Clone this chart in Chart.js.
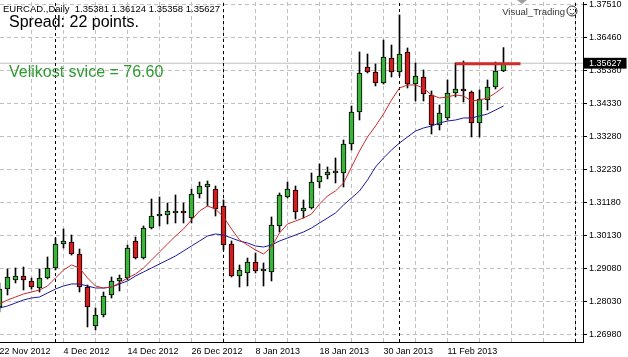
<!DOCTYPE html>
<html>
<head>
<meta charset="utf-8">
<script src="https://cdn.jsdelivr.net/npm/chart.js@4.4.1/dist/chart.umd.min.js"></script>
<style>
html,body{margin:0;padding:0;background:#fff;overflow:hidden;}
canvas{display:block;}
</style>
</head>
<body>
<canvas id="c" width="628" height="357"></canvas>
<script>
// ---- data (EURCAD, Daily) ----
const dates = ["22 Nov 2012","23 Nov 2012","26 Nov 2012","27 Nov 2012","28 Nov 2012","29 Nov 2012","30 Nov 2012",
"3 Dec 2012","4 Dec 2012","5 Dec 2012","6 Dec 2012","7 Dec 2012","10 Dec 2012","11 Dec 2012","12 Dec 2012","13 Dec 2012",
"14 Dec 2012","17 Dec 2012","18 Dec 2012","19 Dec 2012","20 Dec 2012","21 Dec 2012","24 Dec 2012","25 Dec 2012",
"26 Dec 2012","27 Dec 2012","28 Dec 2012","31 Dec 2012","2 Jan 2013","3 Jan 2013","4 Jan 2013","7 Jan 2013",
"8 Jan 2013","9 Jan 2013","10 Jan 2013","11 Jan 2013","14 Jan 2013","15 Jan 2013","16 Jan 2013","17 Jan 2013",
"18 Jan 2013","21 Jan 2013","22 Jan 2013","23 Jan 2013","24 Jan 2013","25 Jan 2013","28 Jan 2013","29 Jan 2013",
"30 Jan 2013","31 Jan 2013","1 Feb 2013","4 Feb 2013","5 Feb 2013","6 Feb 2013","7 Feb 2013","8 Feb 2013",
"11 Feb 2013","12 Feb 2013","13 Feb 2013","14 Feb 2013","15 Feb 2013","18 Feb 2013","19 Feb 2013","20 Feb 2013"];

const opens = [1.27871,1.28444,1.28730,1.28857,1.28698,1.28475,1.28794,1.29112,1.29875,1.29939,
1.29557,1.28507,1.27266,1.27616,1.28253,1.28698,1.28794,1.29971,1.29430,1.30385,
1.30766,1.30798,1.30862,1.30894,1.30703,1.31466,1.31689,1.31625,1.31085,1.29875,
1.28857,1.28953,1.29303,1.29016,1.28985,1.30448,1.31371,1.31594,1.30925,1.31021,
1.31848,1.32071,1.32135,1.32135,1.33057,1.34075,1.35507,1.35348,1.34998,1.35794,
1.35348,1.35985,1.34966,1.35189,1.34616,1.33662,1.33885,1.34680,1.34807,1.34712,
1.33725,1.34457,1.34871,1.35381];
const highs = [1.28635,1.29080,1.29112,1.29144,1.28794,1.29080,1.29462,1.30066,1.30353,1.30162,
1.29716,1.28571,1.27839,1.28348,1.28825,1.28889,1.29844,1.30098,1.30448,1.31307,
1.31371,1.31180,1.31435,1.31180,1.31625,1.31848,1.31880,1.31721,1.31275,1.29971,
1.29207,1.29430,1.29589,1.29271,1.30735,1.31498,1.31848,1.31721,1.31275,1.32135,
1.32421,1.32325,1.32612,1.33185,1.34266,1.35985,1.35921,1.35603,1.36366,1.36207,
1.37162,1.36112,1.35635,1.35412,1.34744,1.34298,1.35094,1.35635,1.35698,1.34744,
1.34775,1.35094,1.35666,1.36124];
const lows = [1.27712,1.28253,1.28635,1.28412,1.28444,1.28348,1.28762,1.29048,1.29748,1.29525,
1.28348,1.27235,1.27139,1.27553,1.28157,1.28380,1.28730,1.29398,1.29398,1.30353,
1.30448,1.30512,1.30544,1.30544,1.30544,1.31339,1.31085,1.30766,1.29685,1.28825,
1.28507,1.28539,1.28953,1.28539,1.28698,1.30257,1.31339,1.30671,1.30703,1.30989,
1.31657,1.31944,1.31816,1.31689,1.32866,1.33821,1.35316,1.34903,1.34966,1.35189,
1.35221,1.34839,1.34425,1.34425,1.33375,1.33503,1.33821,1.34553,1.34394,1.33280,
1.33280,1.34139,1.34807,1.35358];
const closes = [1.28444,1.28825,1.28857,1.28730,1.28507,1.28794,1.29112,1.29875,1.29971,1.29557,
1.28507,1.27871,1.27616,1.28221,1.28698,1.28794,1.29748,1.29430,1.30385,1.30766,
1.30798,1.30925,1.30894,1.30862,1.31466,1.31721,1.31785,1.30989,1.29844,1.28857,
1.29048,1.29303,1.29016,1.29048,1.30480,1.31435,1.31625,1.30894,1.31021,1.31848,
1.32039,1.32166,1.32166,1.33057,1.34075,1.35316,1.35348,1.34998,1.35825,1.35348,
1.35921,1.34966,1.35221,1.34648,1.33662,1.34044,1.34680,1.34807,1.34744,1.33725,
1.34489,1.34871,1.35380,1.35627];

const fastMA = [1.27966,1.28094,1.28189,1.28285,1.28348,1.28412,1.28539,1.28794,1.29048,1.29207,
1.29112,1.28794,1.28539,1.28475,1.28507,1.28635,1.28794,1.28921,1.29112,1.29366,
1.29621,1.29875,1.30130,1.30353,1.30639,1.30925,1.31085,1.30989,1.30735,1.30353,
1.30003,1.29844,1.29685,1.29557,1.29780,1.30225,1.30512,1.30607,1.30703,1.30830,
1.31148,1.31403,1.31562,1.31816,1.32325,1.32835,1.33280,1.33630,1.34012,1.34457,
1.34839,1.34935,1.34935,1.34839,1.34616,1.34521,1.34553,1.34616,1.34585,1.34425,
1.34457,1.34521,1.34680,1.34871];
const slowMA = [1.27839,1.27903,1.27998,1.28094,1.28157,1.28189,1.28316,1.28444,1.28539,1.28603,
1.28603,1.28539,1.28475,1.28475,1.28507,1.28603,1.28698,1.28857,1.28985,1.29112,
1.29239,1.29366,1.29494,1.29653,1.29812,1.29971,1.30130,1.30194,1.30162,1.30066,
1.29971,1.29907,1.29812,1.29780,1.29844,1.29971,1.30066,1.30162,1.30257,1.30385,
1.30544,1.30703,1.30862,1.31116,1.31339,1.31562,1.31912,1.32325,1.32612,1.32866,
1.33089,1.33280,1.33471,1.33566,1.33630,1.33725,1.33789,1.33821,1.33885,1.33885,
1.33948,1.34012,1.34139,1.34266];

const yTickValues = [1.2698,1.2803,1.2908,1.3013,1.3118,1.3223,1.3328,1.3433,1.3538,1.3643,1.3748];
const yTickLabels = ["1.26980","1.28030","1.29080","1.30130","1.31180","1.32230","1.33280","1.34330","1.35380","1.36460","1.37510"];
const bidPrice = 1.35627;
const resistancePrice = 1.3561;
const resistanceStart = 57, resistanceEnd = 65.125;
const monthSeparators = [7, 28, 50, 72];
const headerText = "EURCAD.,Daily  1.35381 1.36124 1.35358 1.35627";
const spreadText = "Spread: 22 points.";
const candleText = "Velikost svice = 76.60";
const brandText = "Visual_Trading";

// ---- chart setup ----
const Y_MIN = 1.26757, Y_MAX = 1.37575;
const X_MIN = 0.0625, X_MAX = 72.9375;
const BULL = '#3cb43c', BEAR = '#d21e1e';
const idx = dates.map((d, i) => i);

const bodyData = idx.map(i => ({x: i, y: [Math.min(opens[i], closes[i]), Math.max(opens[i], closes[i])]}));
const wickData = idx.map(i => ({x: i, y: [lows[i], highs[i]]}));
const bodyColors = idx.map(i => closes[i] >= opens[i] ? BULL : BEAR);

const sepDatasets = monthSeparators.map(s => ({
  type: 'line', data: [{x: s, y: Y_MIN}, {x: s, y: Y_MAX}],
  borderColor: '#000', borderWidth: 1, borderDash: [3, 3], pointRadius: 0, order: 8, clip: false
}));

const overlay = {
  id: 'overlay',
  afterDraw(chart) {
    const ctx = chart.ctx;
    ctx.save();
    ctx.textBaseline = 'alphabetic';
    ctx.textAlign = 'left';
    ctx.fillStyle = '#000';
    ctx.font = '9.5px "Liberation Sans", Arial, sans-serif';
    ctx.fillText(headerText, 3, 12);
    ctx.font = '16px "Liberation Sans", Arial, sans-serif';
    ctx.fillText(spreadText, 9, 27);
    ctx.fillStyle = '#2f9a2f';
    ctx.fillText(candleText, 9, 77);
    ctx.fillStyle = '#333';
    ctx.font = '9.5px "Liberation Sans", Arial, sans-serif';
    ctx.textAlign = 'right';
    ctx.fillText(brandText, 565, 15);
    // smiley
    ctx.strokeStyle = '#333'; ctx.lineWidth = 1;
    ctx.beginPath(); ctx.arc(572, 11, 5, 0, Math.PI * 2); ctx.stroke();
    ctx.fillStyle = '#333';
    ctx.fillRect(570, 9, 1, 1); ctx.fillRect(573, 9, 1, 1);
    ctx.beginPath(); ctx.arc(572, 11, 3, 0.2 * Math.PI, 0.8 * Math.PI); ctx.stroke();
    // chart shift marker
    ctx.fillStyle = '#a0a0a0';
    ctx.beginPath(); ctx.moveTo(517, 0); ctx.lineTo(527, 0); ctx.lineTo(522, 4); ctx.closePath(); ctx.fill();
    ctx.restore();
  }
};

new Chart(document.getElementById('c'), {
  type: 'line',
  data: {
    datasets: [
      {type: 'line', data: [{x: resistanceStart, y: resistancePrice}, {x: resistanceEnd, y: resistancePrice}],
       borderColor: '#d42a2a', borderWidth: 3, pointRadius: 0, order: 0},
      {type: 'line', data: idx.map(i => ({x: i, y: fastMA[i]})), borderColor: '#cc2a2a', borderWidth: 1,
       pointRadius: 0, tension: 0, order: 1},
      {type: 'line', data: idx.map(i => ({x: i, y: slowMA[i]})), borderColor: '#1a1aa0', borderWidth: 1,
       pointRadius: 0, tension: 0, order: 2},
      {type: 'bar', data: bodyData, backgroundColor: bodyColors, borderColor: '#000', borderWidth: 1,
       borderSkipped: false, barThickness: 5, minBarLength: 2, grouped: false, order: 3},
      {type: 'bar', data: wickData, backgroundColor: '#000', borderWidth: 0, barThickness: 1,
       grouped: false, order: 4},
      ...sepDatasets,
      {type: 'line', data: [{x: X_MIN, y: bidPrice}, {x: X_MAX, y: bidPrice}], borderColor: '#c0c0c0',
       borderWidth: 1, pointRadius: 0, order: 9}
    ]
  },
  options: {
    responsive: false,
    animation: false,
    events: [],
    layout: {padding: {top: 2, left: 0, right: 0, bottom: 0}},
    plugins: {legend: {display: false}, tooltip: {enabled: false}, title: {display: false}},
    scales: {
      x: {
        type: 'linear', min: X_MIN, max: X_MAX, offset: false,
        afterBuildTicks: s => { const t = []; for (let v = 0; v <= 72; v += 4) t.push({value: v}); s.ticks = t; },
        afterFit: s => { s.height = 15; s.paddingLeft = 0; s.paddingRight = 0; },
        ticks: {
          autoSkip: false, maxRotation: 0, minRotation: 0, align: 'start', padding: 4,
          color: '#000', font: {family: '"Liberation Sans", Arial, sans-serif', size: 9},
          callback: v => (v % 8 === 0 && v < dates.length) ? dates[v] : ''
        },
        grid: {color: '#c0c0c0', lineWidth: 1, drawTicks: false, offset: false},
        border: {display: true, color: '#000', width: 1, dash: [4, 3]}
      },
      y: {
        type: 'linear', position: 'right', min: Y_MIN, max: Y_MAX,
        afterBuildTicks: s => { s.ticks = yTickValues.map(v => ({value: v})).concat([{value: bidPrice}]); },
        afterFit: s => { s.width = 45; s.paddingTop = 0; s.paddingBottom = 0; },
        ticks: {
          autoSkip: false, padding: 2,
          font: {family: '"Liberation Sans", Arial, sans-serif', size: 9},
          color: c => c.index === yTickLabels.length ? '#fff' : '#000',
          showLabelBackdrop: c => c.index === yTickLabels.length,
          backdropColor: c => c.index === yTickLabels.length ? '#000' : 'rgba(0,0,0,0)',
          backdropPadding: {left: 5, right: 5, top: 0, bottom: 0},
          callback: (v, i) => i < yTickLabels.length ? yTickLabels[i] : bidPrice.toFixed(5)
        },
        grid: {
          color: c => c.index === yTickLabels.length ? 'rgba(0,0,0,0)' : '#c0c0c0',
          lineWidth: 1, drawTicks: true, tickLength: 4, tickColor: '#000', tickBorderDash: []
        },
        border: {display: true, color: '#000', width: 1, dash: [4, 3]}
      }
    }
  },
  plugins: [overlay]
});
</script>
</body>
</html>
